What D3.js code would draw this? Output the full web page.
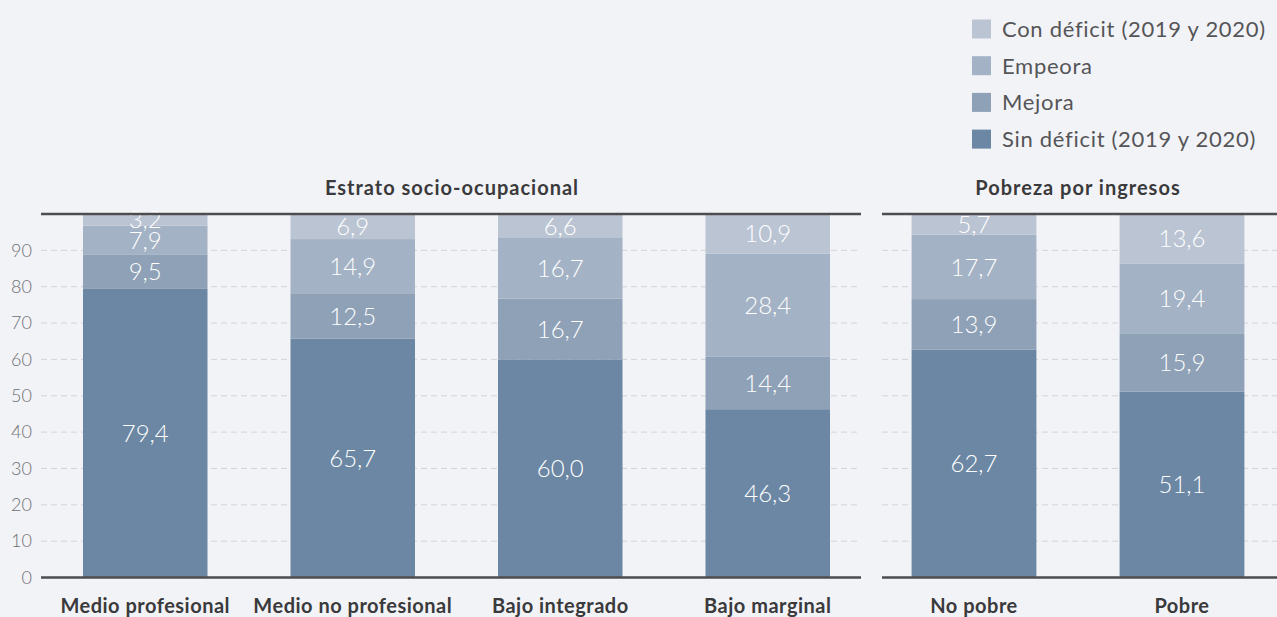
<!DOCTYPE html>
<html>
<head>
<meta charset="utf-8">
<script src="https://cdn.jsdelivr.net/npm/d3@7"></script>
<style>
  html, body { margin: 0; padding: 0; background: #f2f3f7; }
  svg { display: block; font-family: Lato, 'Open Sans', sans-serif; }
</style>
</head>
<body>
<svg id="chart" width="1277" height="617"></svg>
<script>
const seriesNames = ['Sin déficit (2019 y 2020)', 'Mejora', 'Empeora', 'Con déficit (2019 y 2020)'];
const seriesColors = ['#6b87a3', '#8ea1b6', '#a3b2c4', '#bac4d3'];

const estratoCats = ['Medio profesional', 'Medio no profesional', 'Bajo integrado', 'Bajo marginal'];
const estratoSin = [79.4, 65.7, 60.0, 46.3];
const estratoMejora = [9.5, 12.5, 16.7, 14.4];
const estratoEmpeora = [7.9, 14.9, 16.7, 28.4];
const estratoCon = [3.2, 6.9, 6.6, 10.9];

const pobrezaCats = ['No pobre', 'Pobre'];
const pobrezaSin = [62.7, 51.1];
const pobrezaMejora = [13.9, 15.9];
const pobrezaEmpeora = [17.7, 19.4];
const pobrezaCon = [5.7, 13.6];

const yTicks = [0, 10, 20, 30, 40, 50, 60, 70, 80, 90];

const svg = d3.select('#chart');
const y = d3.scaleLinear().domain([0, 100]).range([577.5, 214]);
const fmt = v => d3.format('.1f')(v).replace('.', ',');

function buildRows(cats, series) {
  return cats.map((c, i) => {
    const row = { cat: c };
    seriesNames.forEach((s, k) => { row[s] = series[k][i]; });
    return row;
  });
}

function drawPanel(opts) {
  const g = svg.append('g');
  const rows = buildRows(opts.cats, opts.series);
  const x = d3.scaleBand().domain(opts.cats).range(opts.range).paddingInner(0.4).paddingOuter(0.2);
  const stacked = d3.stack().keys(seriesNames)(rows);

  // grid
  g.selectAll('.grid').data(yTicks.slice(1)).enter().append('line')
    .attr('x1', opts.lineX[0]).attr('x2', opts.lineX[1])
    .attr('y1', d => y(d)).attr('y2', d => y(d))
    .attr('stroke', '#d3d4d8').attr('stroke-width', 1).attr('stroke-dasharray', '6,4');

  // bars
  const layers = g.selectAll('.layer').data(stacked).enter().append('g')
    .attr('fill', (d, i) => seriesColors[i]);
  layers.selectAll('rect').data(d => d).enter().append('rect')
    .attr('x', d => x(d.data.cat))
    .attr('width', x.bandwidth())
    .attr('y', d => y(d[1]))
    .attr('height', d => y(d[0]) - y(d[1]));

  layers.selectAll('text').data(d => d).enter().append('text')
    .attr('x', d => x(d.data.cat) + x.bandwidth() / 2)
    .attr('y', d => (y(d[0]) + y(d[1])) / 2)
    .attr('dy', '0.36em')
    .attr('text-anchor', 'middle')
    .attr('fill', '#fff')
    .attr('font-size', 24)
    .attr('font-weight', 300)
    .text(d => fmt(d[1] - d[0]));

  // top and bottom lines
  [100, 0].forEach(v => {
    g.append('line')
      .attr('x1', opts.lineX[0]).attr('x2', opts.lineX[1])
      .attr('y1', y(v)).attr('y2', y(v))
      .attr('stroke', '#4d4d4f').attr('stroke-width', 2.5);
  });

  // category labels
  const xAxis = d3.axisBottom(x).tickSize(0).tickPadding(0);
  const ax = g.append('g').attr('transform', 'translate(0,' + 613 + ')').call(xAxis);
  ax.select('.domain').remove();
  ax.selectAll('text')
    .attr('font-family', 'Lato, sans-serif')
    .attr('font-size', 20).attr('font-weight', 700).attr('fill', '#3a3a3c')
    .attr('letter-spacing', 0.5)
    .attr('dy', 0);

  // title
  g.append('text')
    .attr('x', opts.titleX).attr('y', 195)
    .attr('text-anchor', 'middle')
    .attr('font-size', 20).attr('font-weight', 700).attr('fill', '#3a3a3c')
    .attr('letter-spacing', 1)
    .text(opts.title);
}

drawPanel({
  title: 'Estrato socio-ocupacional',
  titleX: 452,
  cats: estratoCats,
  series: [estratoSin, estratoMejora, estratoEmpeora, estratoCon],
  range: [41.5, 871.5],
  lineX: [41, 861]
});

drawPanel({
  title: 'Pobreza por ingresos',
  titleX: 1078,
  cats: pobrezaCats,
  series: [pobrezaSin, pobrezaMejora, pobrezaEmpeora, pobrezaCon],
  range: [870, 1286],
  lineX: [882, 1277]
});

// y axis labels
const yAxis = d3.axisLeft(y).tickValues(yTicks).tickSize(0).tickPadding(0);
const yg = svg.append('g').attr('transform', 'translate(32,0)').call(yAxis);
yg.select('.domain').remove();
yg.selectAll('text')
  .attr('font-family', 'Lato, sans-serif')
  .attr('font-size', 18).attr('font-weight', 300).attr('fill', '#707072');

// legend (top to bottom reverse of stack)
const legendItems = seriesNames.slice().reverse();
const legendColors = seriesColors.slice().reverse();
const legend = svg.append('g').attr('transform', 'translate(972,0)');
const li = legend.selectAll('g').data(legendItems).enter().append('g')
  .attr('transform', (d, i) => 'translate(0,' + (29 + i * 36.7) + ')');
li.append('rect').attr('x', 0).attr('y', -9.5).attr('width', 19).attr('height', 19)
  .attr('fill', (d, i) => legendColors[i]);
li.append('text').attr('x', 30).attr('y', 0).attr('dy', '0.36em')
  .attr('font-size', 22).attr('fill', '#555558')
  .attr('letter-spacing', 0.7)
  .text(d => d);
</script>
</body>
</html>
